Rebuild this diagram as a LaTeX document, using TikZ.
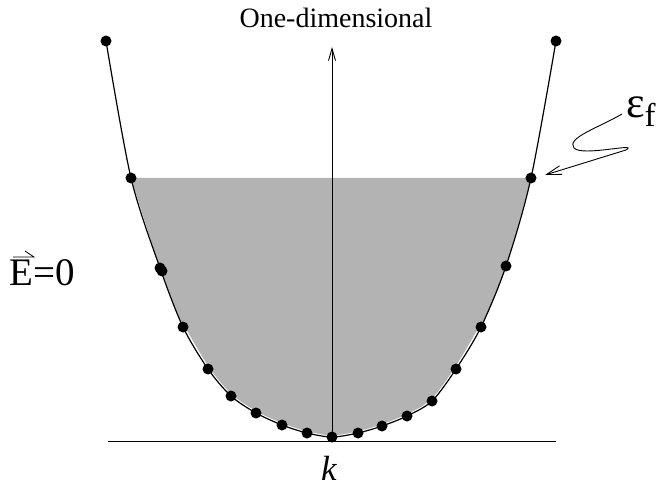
\documentclass[tikz,border=0pt]{standalone}
\usepackage{fontspec}
\setmainfont{Liberation Serif}
\usetikzlibrary{arrows.meta}
\definecolor{fermigray}{HTML}{B3B3B3}
\begin{document}
\begin{tikzpicture}[x=1pt,y=-1pt,
  dotnode/.style={circle,fill=black,inner sep=0pt,minimum size=11pt},
  curveline/.style={line width=1.2pt},
  gapline/.style={white,line width=3.2pt},
  axisline/.style={line width=0.9pt},
  barbtip/.style={-{Straight Barb[length=12pt,width=7pt]}},
  labelfont/.style={inner sep=0pt}
]
\useasboundingbox (0,0) rectangle (667,489);
% dispersion points
\coordinate (p1) at (106,41);
\coordinate (p2) at (131,178);
\coordinate (p3) at (160,268);
\coordinate (p4) at (183,327);
\coordinate (p5) at (208,369);
\coordinate (p6) at (231,396);
\coordinate (p7) at (256,413);
\coordinate (p8) at (282,425);
\coordinate (p9) at (307,433);
\coordinate (p10) at (332,437);
\coordinate (p11) at (358,433);
\coordinate (p12) at (382,426);
\coordinate (p13) at (407,416);
\coordinate (p14) at (432,401);
\coordinate (p15) at (456,369);
\coordinate (p16) at (481,327);
\coordinate (p17) at (506,266);
\coordinate (p18) at (531,178);
\coordinate (p19) at (556,41);
\coordinate (p3b) at (162,271);
% filled Fermi sea
\fill[fermigray] plot[smooth,tension=0.5] coordinates {(p2) (p3) (p4) (p5) (p6) (p7) (p8) (p9) (p10) (p11) (p12) (p13) (p14) (p15) (p16) (p17) (p18)} -- cycle;
% baseline and axis
\coordinate (bl) at (108,441);
\coordinate (br) at (556,441);
\coordinate (axbot) at (332,441);
\coordinate (axtop) at (332,47);
\draw[gapline] plot[smooth,tension=0.5] coordinates {(p4) (p5) (p6) (p7) (p8) (p9) (p10) (p11) (p12) (p13) (p14) (p15) (p16)};
\draw[axisline] (bl) -- (br);
\draw[axisline,barbtip] (axbot) -- (axtop);
% curve
\draw[curveline] plot[smooth,tension=0.5] coordinates {(p1) (p2) (p3) (p4) (p5) (p6) (p7) (p8) (p9) (p10) (p11) (p12) (p13) (p14) (p15) (p16) (p17) (p18) (p19)};
% dots
\foreach \i in {1,...,19} \node[dotnode] (d\i) at (p\i) {};
\node[dotnode] (d3b) at (p3b) {};
% labels
\node[font=\fontsize{28}{34}\selectfont] (title) at (336,18) {One-dimensional};
\node[font=\fontsize{35}{40}\selectfont\itshape,labelfont,anchor=base] (klabel) at (329,480) {k};
\node[labelfont,anchor=base west] (eps) at (626,118) {\fontsize{44}{48}\selectfont ε\fontsize{33}{40}\selectfont\raisebox{-9pt}{f}};
\node[font=\fontsize{39}{44}\selectfont,labelfont,anchor=base west] (Elabel) at (9,286) {E=0};
% vector harpoon over E
\coordinate (h1) at (13,257);
\coordinate (h2) at (34,257);
\coordinate (h3) at (25,251);
\draw[line width=0.8pt] (h1) -- (h2) -- (h3);
% squiggly arrow to Fermi point
\coordinate (s0) at (622,114);
\coordinate (s1) at (574,148);
\coordinate (s2) at (626,150);
\coordinate (stip) at (545,175);
\draw[line width=0.9pt,-{Straight Barb[length=15pt,width=9pt]}] (s0) .. controls (598,128) and (566,138) .. (s1) .. controls (582,157) and (640,142) .. (s2) -- (stip);
\end{tikzpicture}
\end{document}
